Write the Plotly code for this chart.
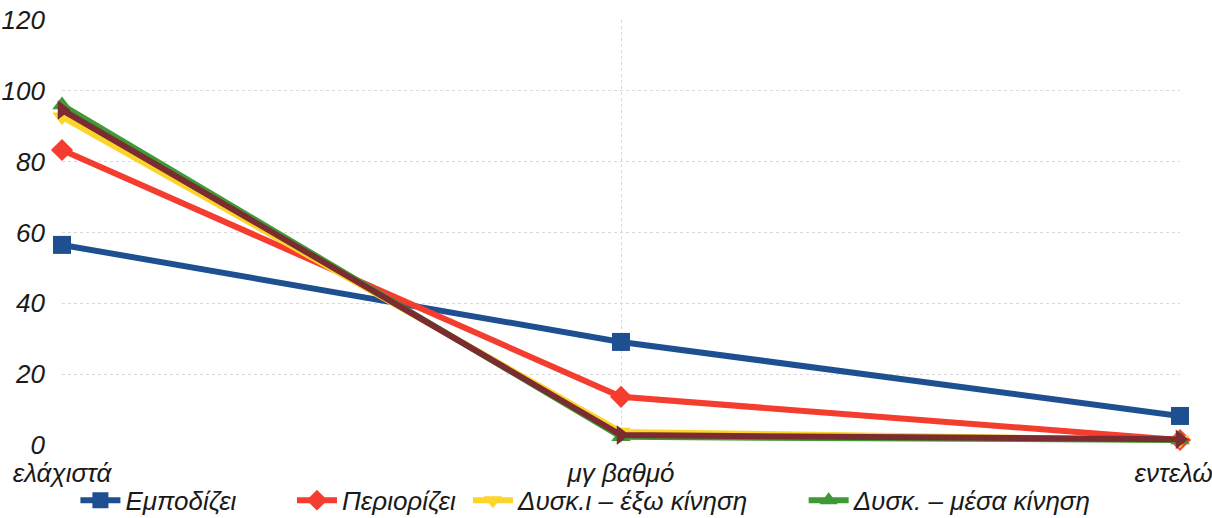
import plotly.graph_objects as go

categories = ["ελάχιστά", "μγ βαθμό", "εντελώς"]
series_names = ["Εμποδίζει", "Περιορίζει", "Δυσκ.ι – έξω κίνηση", "Δυσκ. – μέσα κίνηση", "Δυσκ. – άλλο"]
s_empodizei = [56.5, 29.1, 8.2]
s_periorizei = [83.3, 13.6, 1.4]
s_exo = [92.7, 3.7, 1.4]
s_mesa = [96.0, 2.3, 1.4]
s_allo = [94.6, 2.8, 1.6]
y_ticks = [0, 20, 40, 60, 80, 100, 120]

series = [s_empodizei, s_periorizei, s_exo, s_mesa, s_allo]
colors = ["#1d4f91", "#f53d2f", "#fcd42a", "#3f9a35", "#7b2c31"]
symbols = ["square", "diamond", "triangle-down", "triangle-up", "triangle-right"]
msizes = [18, 17, 17, 17, 17]
NB = "\u00a0"
legend_pad = [NB * 7, NB * 1, NB * 7, "", ""]

FONT = "Liberation Sans, Arial, sans-serif"
xs = list(range(len(categories)))

fig = go.Figure()
for i, (name, vals) in enumerate(zip(series_names, series)):
    fig.add_trace(go.Scatter(
        x=xs, y=vals, name=name + legend_pad[i], mode="lines+markers",
        line=dict(color=colors[i], width=6),
        marker=dict(symbol=symbols[i], size=msizes[i], color=colors[i]),
        cliponaxis=False,
        showlegend=i < 4,
    ))

fig.update_layout(
    width=1212, height=518,
    margin=dict(l=62, r=32, t=20, b=73, autoexpand=False),
    paper_bgcolor="white", plot_bgcolor="white",
    font=dict(family=FONT, size=26, color="#1a1a1a", style="italic"),
    showlegend=True,
    legend=dict(orientation="h", x=0.012, xanchor="left", y=-0.13, yanchor="middle",
                font=dict(family=FONT, size=26, style="italic"),
                itemwidth=40, tracegroupgap=0, bgcolor="rgba(0,0,0,0)"),
    xaxis=dict(range=[0, 2], tickvals=xs, ticktext=categories, automargin=False,
               ticklabeloverflow="allow",
               showgrid=True, gridcolor="#d8d8d8", griddash="dot", gridwidth=1,
               zeroline=False, showline=False, ticks="", ticklabelstandoff=10,
               tickfont=dict(family=FONT, size=26, style="italic")),
    yaxis=dict(range=[0, 120], tickvals=y_ticks, automargin=False,
               showgrid=True, gridcolor="#d8d8d8", griddash="dot", gridwidth=1,
               zeroline=False, showline=False, ticks="", ticklabelstandoff=16,
               tickfont=dict(family=FONT, size=26, style="italic")),
)

fig.write_html("out.html")
